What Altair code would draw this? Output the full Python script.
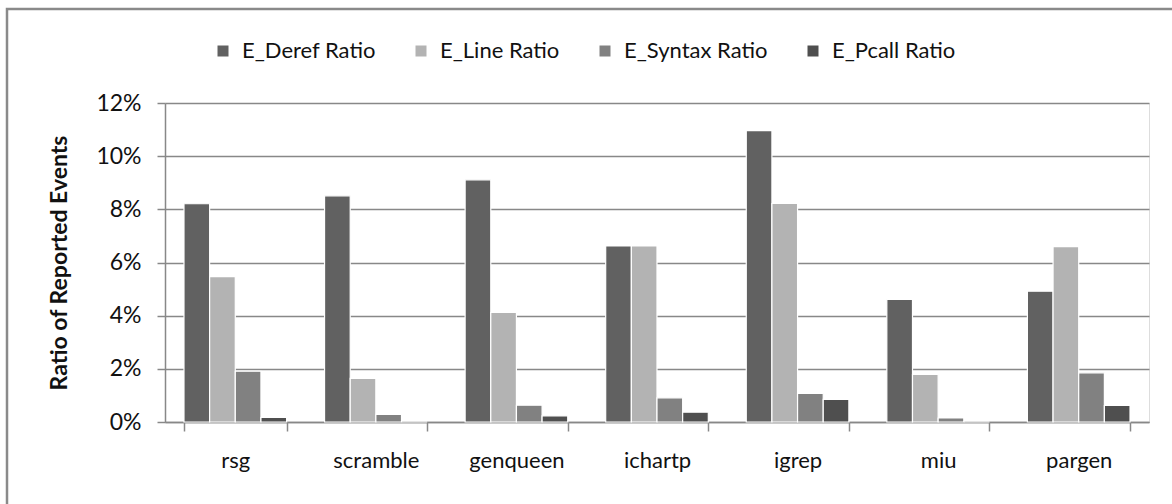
import altair as alt
import pandas as pd

# Benchmarks on the x axis
programs = ["rsg", "scramble", "genqueen", "ichartp", "igrep", "miu", "pargen"]

# Share of reported events per event kind (fractions)
deref_ratio = [0.0821, 0.0851, 0.0911, 0.0662, 0.1096, 0.0461, 0.0492]
line_ratio = [0.0547, 0.0164, 0.0412, 0.0662, 0.0822, 0.0179, 0.0660]
syntax_ratio = [0.0191, 0.0029, 0.0063, 0.0091, 0.0108, 0.0015, 0.0185]
pcall_ratio = [0.0017, 0.0000, 0.0023, 0.0037, 0.0085, 0.0000, 0.0062]

series_names = ["E_Deref Ratio", "E_Line Ratio", "E_Syntax Ratio", "E_Pcall Ratio"]
series_colors = ["#616161", "#b3b3b3", "#818181", "#4f4f4f"]
y_ticks = [0, 0.02, 0.04, 0.06, 0.08, 0.10, 0.12]

rows = []
for name, values in zip(series_names, [deref_ratio, line_ratio, syntax_ratio, pcall_ratio]):
    for prog, v in zip(programs, values):
        rows.append({"program": prog, "series": name, "ratio": v})
df = pd.DataFrame(rows)

FONT = "Lato"
GRID = "#888888"
TEXT = "#111111"

bars = alt.Chart(df).mark_bar(stroke="white", strokeWidth=1.2).encode(
    x=alt.X(
        "program:N",
        sort=programs,
        title=None,
        scale=alt.Scale(paddingInner=0.27, paddingOuter=0.135),
        axis=alt.Axis(
            tickBand="extent",
            tickSize=9,
            tickColor=GRID,
            tickWidth=1.5,
            domainColor=GRID,
            domainWidth=1.5,
            labelAngle=0,
            labelFont=FONT,
            labelFontSize=22,
            labelColor=TEXT,
            labelPadding=19,
        ),
    ),
    xOffset=alt.XOffset("series:N", sort=series_names, scale=alt.Scale(paddingInner=0)),
    y=alt.Y(
        "ratio:Q",
        title="Ratio of Reported Events",
        scale=alt.Scale(domain=[0, 0.12], nice=False),
        axis=alt.Axis(
            values=y_ticks,
            format=".0%",
            grid=True,
            gridColor=GRID,
            gridWidth=1.5,
            domainColor=GRID,
            domainWidth=1.5,
            tickColor=GRID,
            tickWidth=1.5,
            tickSize=8,
            labelFont=FONT,
            labelFontSize=23,
            labelColor=TEXT,
            labelPadding=16,
            titleFont=FONT,
            titleFontSize=23,
            titleFontWeight="bold",
            titleColor=TEXT,
            titlePadding=24,
        ),
    ),
    color=alt.Color(
        "series:N",
        sort=series_names,
        scale=alt.Scale(domain=series_names, range=series_colors),
        legend=alt.Legend(
            title=None,
            orient="none",
            direction="horizontal",
            legendX=47,
            legendY=-63,
            symbolType="square",
            symbolSize=121,
            symbolStrokeWidth=0,
            labelFont=FONT,
            labelFontSize=22,
            labelColor=TEXT,
            labelOffset=8,
            columnPadding=34,
        ),
    ),
)

# Outer frame around the whole figure
frame = alt.Chart(pd.DataFrame({"k": [0]})).mark_rect(
    fillOpacity=0, stroke="#8a8a8a", strokeWidth=2.5
).encode(
    x=alt.value(-158),
    x2=alt.value(1060),
    y=alt.value(-94),
    y2=alt.value(450),
)

chart = alt.layer(frame, bars).properties(
    width=984,
    height=319,
    padding={"left": 165, "top": 103, "right": 23, "bottom": 82},
    autosize=alt.AutoSizeParams(type="none"),
).configure_view(stroke=None).configure(background="white")

chart.save("out.html", embed_options={"renderer": "svg", "actions": False})
